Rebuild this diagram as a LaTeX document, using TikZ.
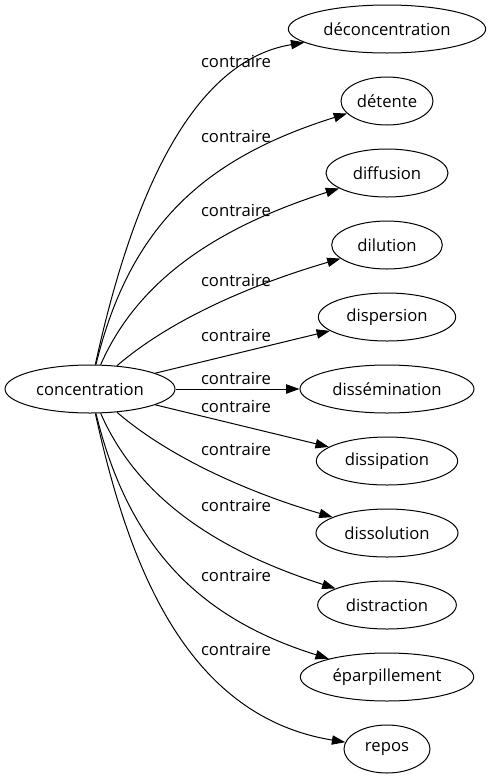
\documentclass[tikz,border=0pt]{standalone}
\usepackage{fontspec}
\setmainfont{Open Sans}
\usetikzlibrary{arrows.meta,shapes.geometric}

\begin{document}
\begin{tikzpicture}[x=0.75pt, y=-0.75pt, ->, >={Triangle[length=10pt,width=7pt]}, line width=0.75pt, font=\fontsize{12.5}{15}\selectfont]
\tikzstyle{word}=[ellipse, draw=black, fill=white, inner sep=0pt, minimum height=36pt]
\tikzstyle{rel}=[inner sep=0pt, text=black]
\useasboundingbox (0,0) rectangle (490,779);
\node[word, minimum width=127.5pt] (conc) at (90,389) {concentration};
\foreach \nm/\txt/\ew [count=\i from 0] in {deconc/déconcentration/148pt, detente/détente/69pt,
    diffusion/diffusion/91.5pt, dilution/dilution/83pt, dispersion/dispersion/103pt,
    dissem/dissémination/130.5pt, dissip/dissipation/106pt, dissol/dissolution/106.5pt,
    distract/distraction/104pt, eparp/éparpillement/130pt, repos/repos/64.5pt}
  \node[word, minimum width=\ew] (\nm) at (387,29+72*\i) {\txt};
% curved edges
\foreach \nm/\ax/\ay/\bx/\by in {deconc/128/215/185/62, detente/130/225/205/158,
    diffusion/140/275/225/225, dilution/170/320/250/285,
    dissol/170/458/250/493, distract/140/503/225/553,
    eparp/130/553/205/620, repos/128/563/185/716}
  \draw (conc) .. controls (\ax,\ay) and (\bx,\by) .. (\nm);
% straight edges
\foreach \nm in {dispersion, dissem, dissip}
  \draw (conc) -- (\nm);
\foreach \ly [count=\i] in {61,136,210,280,335,378,406,449,505,575,649}
  \node[rel] (rel\i) at (236,\ly) {contraire};
\end{tikzpicture}
\end{document}
